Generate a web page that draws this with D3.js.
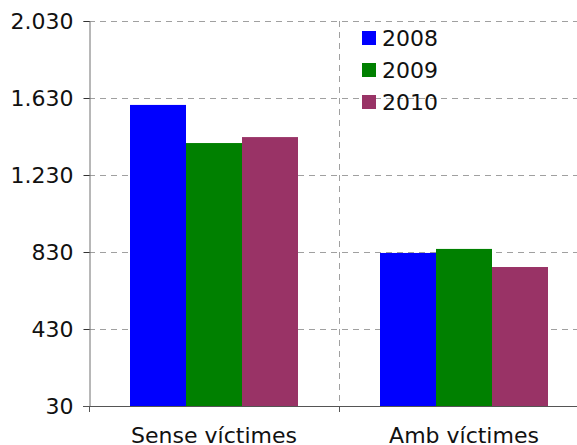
<!DOCTYPE html>
<html>
<head>
<meta charset="utf-8">
<script src="https://cdn.jsdelivr.net/npm/d3@7"></script>
<style>
  body { margin: 0; background: #fff; }
  svg { display: block; font-family: Verdana, "DejaVu Sans", sans-serif; }
</style>
</head>
<body>
<svg id="grafica"></svg>
<script>
const svg_w = 577;
const svg_h = 445;

// datos
const categories = ["Sense víctimes", "Amb víctimes"];
const years = ["2008", "2009", "2010"];
const values_2008 = [1594, 825];
const values_2009 = [1396, 846];
const values_2010 = [1427, 752];
const y_ticks = [30, 430, 830, 1230, 1630, 2030];
const colors = ["#0000ff", "#008000", "#993366"];

const series = [values_2008, values_2009, values_2010];

const margin = {l: 89, t: 21};
const plot_bottom = 406;
const band_w = 250;
const font_size = 22;

let svg = d3.select("#grafica")
  .attr("width", svg_w)
  .attr("height", svg_h)

let x_scale = d3.scaleBand()
  .domain(categories)
  .range([margin.l, margin.l + band_w * categories.length])
  .paddingInner(0)
  .paddingOuter(0)

let x_inner = d3.scaleBand()
  .domain(years)
  .range([0, 168])

let y_scale = d3.scaleLinear()
  .domain([30, 2030])
  .range([plot_bottom, margin.t])

// rejilla horizontal
svg.append("g")
  .selectAll("line")
  .data(y_ticks.slice(1))
  .enter()
  .append("line")
  .attr("x1", margin.l)
  .attr("x2", svg_w)
  .attr("y1", d => y_scale(d) + 0.5)
  .attr("y2", d => y_scale(d) + 0.5)
  .attr("stroke", "#a0a0a0")
  .attr("stroke-dasharray", "6,5")

// separador vertical
svg.append("line")
  .attr("x1", x_scale(categories[1]) + 0.5)
  .attr("x2", x_scale(categories[1]) + 0.5)
  .attr("y1", margin.t)
  .attr("y2", plot_bottom)
  .attr("stroke", "#a0a0a0")
  .attr("stroke-dasharray", "6,5")

// barras
let groups = svg.append("g")
  .selectAll("g")
  .data(categories)
  .enter()
  .append("g")
  .attr("transform", d => `translate(${x_scale(d) + (band_w - 168) / 2},0)`)

groups.selectAll("rect")
  .data((d, i) => years.map((y, j) => ({year: y, value: series[j][i], color: colors[j]})))
  .enter()
  .append("rect")
  .attr("x", d => x_inner(d.year))
  .attr("y", d => y_scale(d.value))
  .attr("width", x_inner.bandwidth())
  .attr("height", d => plot_bottom - y_scale(d.value))
  .attr("fill", d => d.color)

// eje Y
let y_axis = svg.append("g")
  .attr("transform", `translate(${margin.l + 0.5},0)`)
  .call(d3.axisLeft(y_scale)
    .tickValues(y_ticks)
    .tickSize(6)
    .tickPadding(10)
    .tickFormat(d => d3.format(",")(d).replace(",", ".")))

y_axis.select(".domain").attr("stroke", "#707070")
y_axis.selectAll(".tick line").attr("stroke", "#333")
y_axis.selectAll("text")
  .attr("font-size", font_size)
  .attr("fill", "#111")
  .attr("font-family", "Verdana, 'DejaVu Sans', sans-serif")

// eje X
let x_axis = svg.append("g")
  .attr("transform", `translate(0,${plot_bottom + 0.5})`)
  .call(d3.axisBottom(x_scale).tickSize(0).tickPadding(21))

x_axis.select(".domain").attr("stroke", "#555").attr("d", `M${margin.l - 6},0H${svg_w}`)
x_axis.selectAll("text")
  .attr("font-size", font_size)
  .attr("fill", "#111")
  .attr("font-family", "Verdana, 'DejaVu Sans', sans-serif")

// marcas entre categorías
svg.append("g")
  .selectAll("line")
  .data(categories)
  .enter()
  .append("line")
  .attr("x1", d => x_scale(d) + 0.5)
  .attr("x2", d => x_scale(d) + 0.5)
  .attr("y1", plot_bottom)
  .attr("y2", plot_bottom + 6)
  .attr("stroke", "#555")

// leyenda
let legend = svg.append("g")
  .attr("transform", "translate(362,31)")
  .selectAll("g")
  .data(years)
  .enter()
  .append("g")
  .attr("transform", (d, i) => `translate(0,${i * 32})`)

legend.append("rect")
  .attr("width", 14)
  .attr("height", 14)
  .attr("fill", (d, i) => colors[i])

legend.append("text")
  .attr("x", 20)
  .attr("y", 15)
  .attr("font-size", font_size)
  .attr("fill", "#111")
  .text(d => d)
</script>
</body>
</html>
